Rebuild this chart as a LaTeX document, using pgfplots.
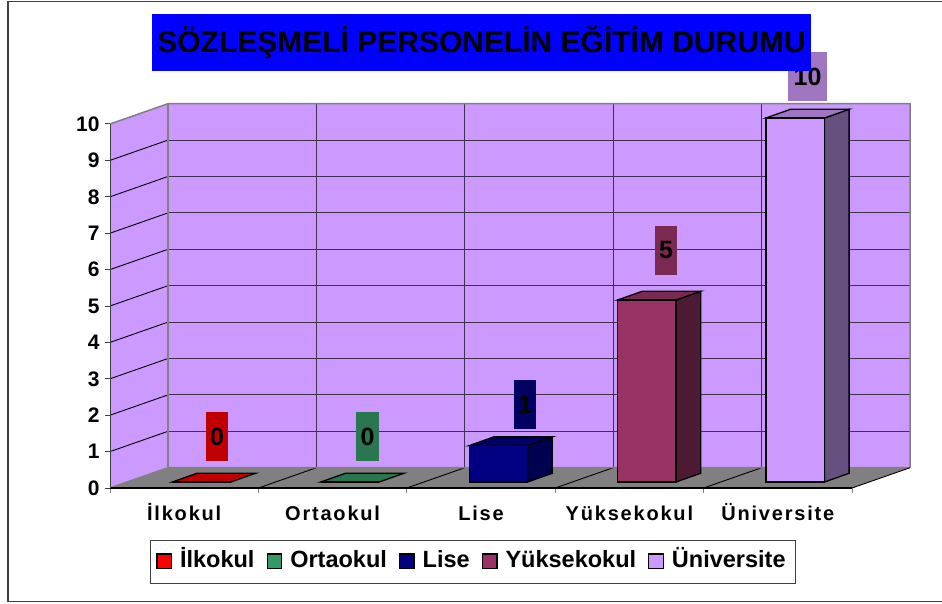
\documentclass[border=0pt]{standalone}
\usepackage{fontspec}
\setmainfont{Liberation Sans}
\newfontfamily\xl[LetterSpace=9]{Liberation Sans}
\usepackage{pgfplots}
\pgfplotsset{compat=1.18}
\newcommand\fs[1]{\fontsize{#1}{#1}\selectfont\bfseries}
\definecolor{wall}{HTML}{CC99FF}
\definecolor{floorc}{HTML}{808080}
\definecolor{gridc}{HTML}{3F3052}
\definecolor{frm}{HTML}{404040}
\definecolor{cA}{HTML}{FF0000}\definecolor{cAd}{HTML}{C00000}
\definecolor{cB}{HTML}{339966}\definecolor{cBd}{HTML}{29774F}
\definecolor{cC}{HTML}{000080}\definecolor{cCd}{HTML}{000060}\definecolor{cCs}{HTML}{000050}
\definecolor{cD}{HTML}{993366}\definecolor{cDd}{HTML}{7A2952}\definecolor{cDs}{HTML}{4D1A33}
\definecolor{cE}{HTML}{CC99FF}\definecolor{cEd}{HTML}{A076C2}\definecolor{cEs}{HTML}{665080}
\pgfplotsset{
  mybar/.style n args={5}{ybar,bar width=58.5pt,bar shift=0pt,draw=black,line width=1.3pt,fill=#1,
    mark=none,
    legend image code/.code={\path (-1pt,0pt); \draw[fill=#1,draw=black,line width=1.3pt] (0pt,-6.5pt) rectangle (14.5pt,8pt);},
    nodes near coords,
    nodes near coords align={anchor=center},
    every node near coord/.style={anchor=center,xshift=#2pt,yshift=#3pt,fill=#4,text=black,
      minimum width=#5pt,minimum height=49pt,inner sep=0pt,font=\fs{25}}},
}
\begin{document}
\begin{tikzpicture}[x=1pt,y=1pt]
\useasboundingbox (0,0) rectangle (942,603);
\draw[frm,line width=1.5pt] (942,601.5) -- (8,601.5) -- (8,1.5) -- (942,1.5);
% walls, floor and front axis
\begin{axis}[at={(110pt,115pt)},anchor=south west,scale only axis,width=742pt,height=364pt,
  xmin=-0.5,xmax=4.5,ymin=0,ymax=10,clip=false,axis on top,
  axis x line=bottom,axis y line=left,axis line style={-},
  x axis line style={black,line width=1.1pt},y axis line style={frm,line width=1pt},
  /pgf/number format/assume math mode=true,
  xtick={0,1,2,3,4},xticklabels={İlkokul,Ortaokul,Lise,Yüksekokul,Üniversite},
  minor xtick={-0.5,0.5,1.5,2.5,3.5,4.5},
  ytick={0,1,2,3,4,5,6,7,8,9,10},
  tick align=outside,major tick length=5pt,minor tick length=5pt,
  major x tick style={draw=none},minor x tick style={draw=floorc,line width=1pt},
  y tick style={draw=frm,line width=1pt},
  xticklabel style={font=\xl\fs{20},text height=15pt,text depth=0pt,yshift=-9pt},
  yticklabel style={font=\fs{21},xshift=-2pt},
]
\fill[wall] (-0.5,0) -- (-0.109,0.558) -- (-0.109,10.558) -- (-0.5,10) -- cycle;
\fill[wall] (-0.109,0.558) rectangle (4.891,10.558);
\fill[floorc] (-0.5,0) -- (4.5,0) -- (4.891,0.558) -- (-0.109,0.558) -- cycle;
\pgfplotsinvokeforeach{1,...,9}{
  \draw[gridc,line width=1pt] (-0.109,#1.558) -- (4.891,#1.558);
  \draw[black,line width=0.9pt] (-0.5,#1) -- (-0.109,#1.558);
}
\pgfplotsinvokeforeach{0,1,2,3}{
  \draw[gridc,line width=1pt] (#1.891,0.558) -- (#1.891,10.558);
  \draw[black,line width=0.9pt] (#1.5,0) -- (#1.891,0.558);
}
\draw[floorc,line width=1.5pt] (-0.5,10) -- (-0.109,10.558) -- (4.891,10.558) -- (4.891,0.558);
\draw[floorc,line width=1.5pt] (-0.109,0.558) -- (-0.109,10.558);
\draw[floorc,line width=1.5pt] (-0.5,0) -- (-0.109,0.558) -- (4.891,0.558);
\draw[black,line width=0.9pt] (4.5,0) -- (4.891,0.558);
\end{axis}
% bars
\begin{axis}[at={(127.4pt,121pt)},anchor=south west,scale only axis,width=742pt,height=364pt,
  xmin=-0.5,xmax=4.5,ymin=0,ymax=10,clip=false,hide axis,
  /pgf/number format/assume math mode=true,
  legend columns=5,
  legend style={at={(axis description cs:0.4657,-0.2198)},anchor=center,draw=frm,line width=0.9pt,fill=white,
    font=\fs{23.5},inner xsep=5pt,inner ysep=9pt,
    /tikz/every even column/.append style={column sep=6pt},
    /tikz/every odd column/.append style={column sep=3pt},
    nodes={inner xsep=5pt,inner ysep=2pt,text height=16.5pt,text depth=5pt}},
]
% tops and sides (depth of each bar), values in the second coordinate
\addplot[forget plot,fill=cAd,draw=black,line width=1.3pt] coordinates {(-0.197,0)(0.197,0)(0.3634,0.24)(-0.0306,0.24)} -- cycle;
\addplot[forget plot,fill=cBd,draw=black,line width=1.3pt] coordinates {(0.803,0)(1.197,0)(1.3634,0.24)(0.9694,0.24)} -- cycle;
\addplot[forget plot,fill=cCs,draw=black,line width=1.3pt] coordinates {(2.197,0)(2.3634,0.24)(2.3634,1.24)(2.197,1)} -- cycle;
\addplot[forget plot,fill=cCd,draw=black,line width=1.3pt] coordinates {(1.803,1)(2.197,1)(2.3634,1.24)(1.9694,1.24)} -- cycle;
\addplot[forget plot,fill=cDs,draw=black,line width=1.3pt] coordinates {(3.197,0)(3.3634,0.24)(3.3634,5.24)(3.197,5)} -- cycle;
\addplot[forget plot,fill=cDd,draw=black,line width=1.3pt] coordinates {(2.803,5)(3.197,5)(3.3634,5.24)(2.9694,5.24)} -- cycle;
\addplot[forget plot,fill=cEs,draw=black,line width=1.3pt] coordinates {(4.197,0)(4.3634,0.24)(4.3634,10.24)(4.197,10)} -- cycle;
\addplot[forget plot,fill=cEd,draw=black,line width=1.3pt] coordinates {(3.803,10)(4.197,10)(4.3634,10.24)(3.9694,10.24)} -- cycle;
% front faces, with value labels
\addplot[mybar={cA}{15.4}{45.5}{cAd}{22.5}] coordinates {(0,0)};
\addplot[mybar={cB}{17.5}{45.5}{cBd}{22.5}] coordinates {(1,0)};
\addplot[mybar={cC}{26.6}{41}{cCd}{22.5}] coordinates {(2,1)};
\addplot[mybar={cD}{19.2}{49.5}{cDd}{22.5}] coordinates {(3,5)};
\addplot[mybar={cE}{12.3}{41.5}{cEd}{39}] coordinates {(4,10)};
\legend{İlkokul,Ortaokul,Lise,Yüksekokul,Üniversite}
\end{axis}
\node[fill=blue,minimum width=659pt,minimum height=57pt,inner sep=0pt,text=black,font=\fs{30}] at (481.5,560.5) {\raisebox{1.5pt}{SÖZLEŞMELİ PERSONELİN EĞİTİM DURUMU}};
\end{tikzpicture}
\end{document}
